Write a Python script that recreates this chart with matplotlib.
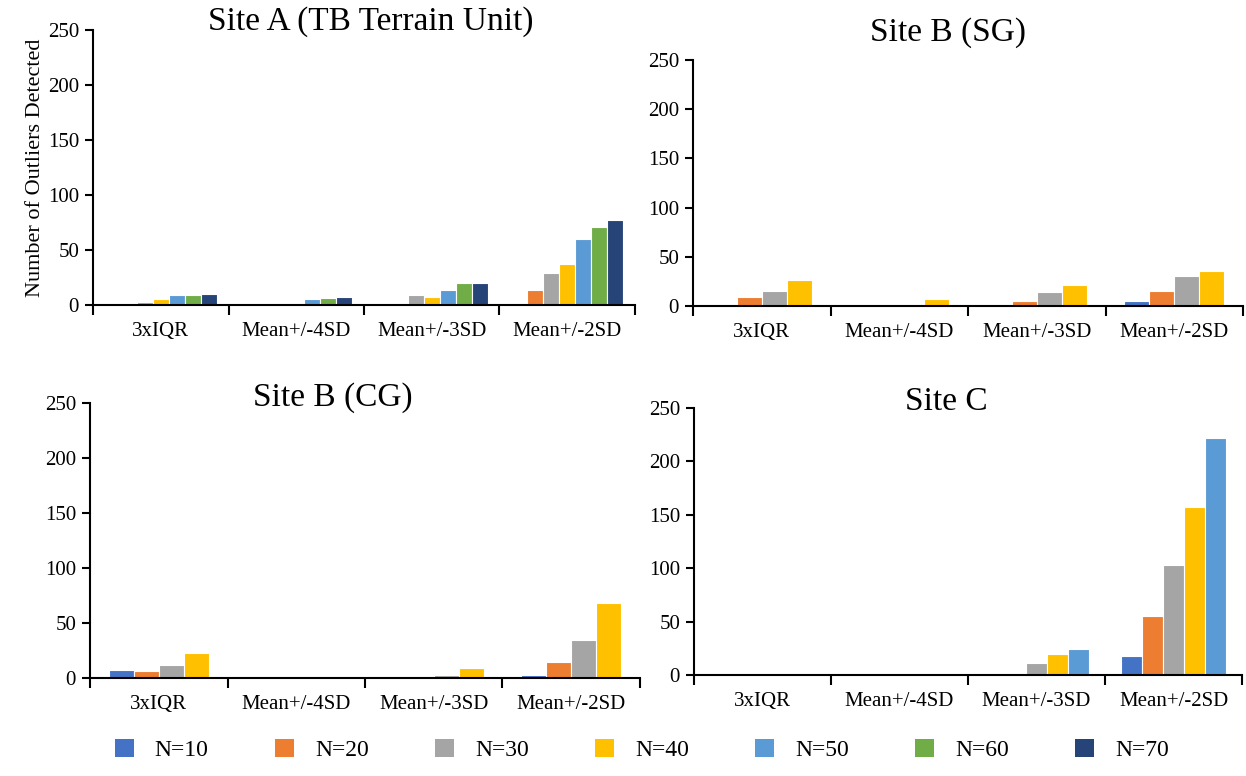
# Outlier counts per detection method, four sites, grouped bar panels

import numpy as np
import matplotlib.pyplot as plt
from matplotlib.patches import Patch

plt.rcParams['font.family'] = ['Liberation Serif', 'DejaVu Serif']

methods = ['3xIQR', 'Mean+/-4SD', 'Mean+/-3SD', 'Mean+/-2SD']
sizes = ['N=10', 'N=20', 'N=30', 'N=40', 'N=50', 'N=60', 'N=70']
colors = ['#4472C4', '#ED7D31', '#A5A5A5', '#FFC000', '#5B9BD5', '#70AD47', '#264478']

# Site A (TB Terrain Unit), one list per sample size
site_a = [
    [0, 0, 0, 0],
    [0, 0, 0, 14],
    [3, 0, 9, 29],
    [5, 0, 7, 37],
    [9, 5, 14, 60],
    [9, 6, 20, 71],
    [10, 7, 20, 77],
]

# Site B (SG)
site_b_sg = [
    [0, 0, 0, 5],
    [9, 0, 5, 15],
    [15, 0, 14, 30],
    [26, 7, 21, 36],
]

# Site B (CG)
site_b_cg = [
    [7, 0, 0, 3],
    [6, 0, 0, 15],
    [12, 0, 3, 35],
    [23, 0, 9, 68],
]

# Site C
site_c = [
    [0, 0, 0, 18],
    [0, 0, 0, 55],
    [0, 0, 11, 103],
    [0, 0, 20, 157],
    [0, 0, 24, 222],
]

W, H = 1246, 776
fig = plt.figure(figsize=(W / 100, H / 100), dpi=100)


def px_axes(left, right, top, bottom):
    return fig.add_axes([left / W, 1 - bottom / H, (right - left) / W, (bottom - top) / H])


def draw_panel(ax, data, title, tx, ty):
    n = len(data)
    width = 1.0 / (n + 1.5)
    x = np.arange(len(methods))
    for i, vals in enumerate(data):
        ax.bar(x + (i - (n - 1) / 2) * width, vals, width, color=colors[i],
               edgecolor='white', linewidth=0.8, zorder=2)
    ax.set_xlim(-0.5, len(methods) - 0.5)
    ax.set_ylim(0, 250)
    ax.set_yticks(np.arange(0, 251, 50))
    ax.set_xticks(x)
    ax.set_xticklabels(methods, fontsize=15)
    ax.set_xticks(np.arange(-0.5, len(methods), 1.0), minor=True)
    ax.tick_params(axis='x', which='major', length=0, pad=12)
    ax.tick_params(axis='x', which='minor', length=7, width=1.5, direction='out')
    ax.tick_params(axis='y', labelsize=15, length=6, width=1.5, direction='out', pad=4)
    for s in ['top', 'right']:
        ax.spines[s].set_visible(False)
    for s in ['left', 'bottom']:
        ax.spines[s].set_linewidth(1.5)
    fig.text(tx / W, 1 - ty / H, title, fontsize=24, ha='center', va='center')


ax1 = px_axes(93, 635, 30, 305)
draw_panel(ax1, site_a, 'Site A (TB Terrain Unit)', 371, 22)
ax1.set_ylabel('Number of Outliers Detected', fontsize=16, labelpad=2)

ax2 = px_axes(693, 1243, 60, 306)
draw_panel(ax2, site_b_sg, 'Site B (SG)', 948, 33)

ax3 = px_axes(90, 640, 403, 678)
draw_panel(ax3, site_b_cg, 'Site B (CG)', 333, 398)

ax4 = px_axes(694, 1242, 408, 675)
draw_panel(ax4, site_c, 'Site C', 946, 402)

handles = [Patch(facecolor=c, label=s) for c, s in zip(colors, sizes)]
fig.legend(handles=handles, loc='center', bbox_to_anchor=(0.515, 1 - 750 / H),
           ncol=7, frameon=False, fontsize=17, handlelength=0.8, handleheight=0.8,
           columnspacing=2.8, handletextpad=0.9)

fig.savefig('out.png', dpi=100)
